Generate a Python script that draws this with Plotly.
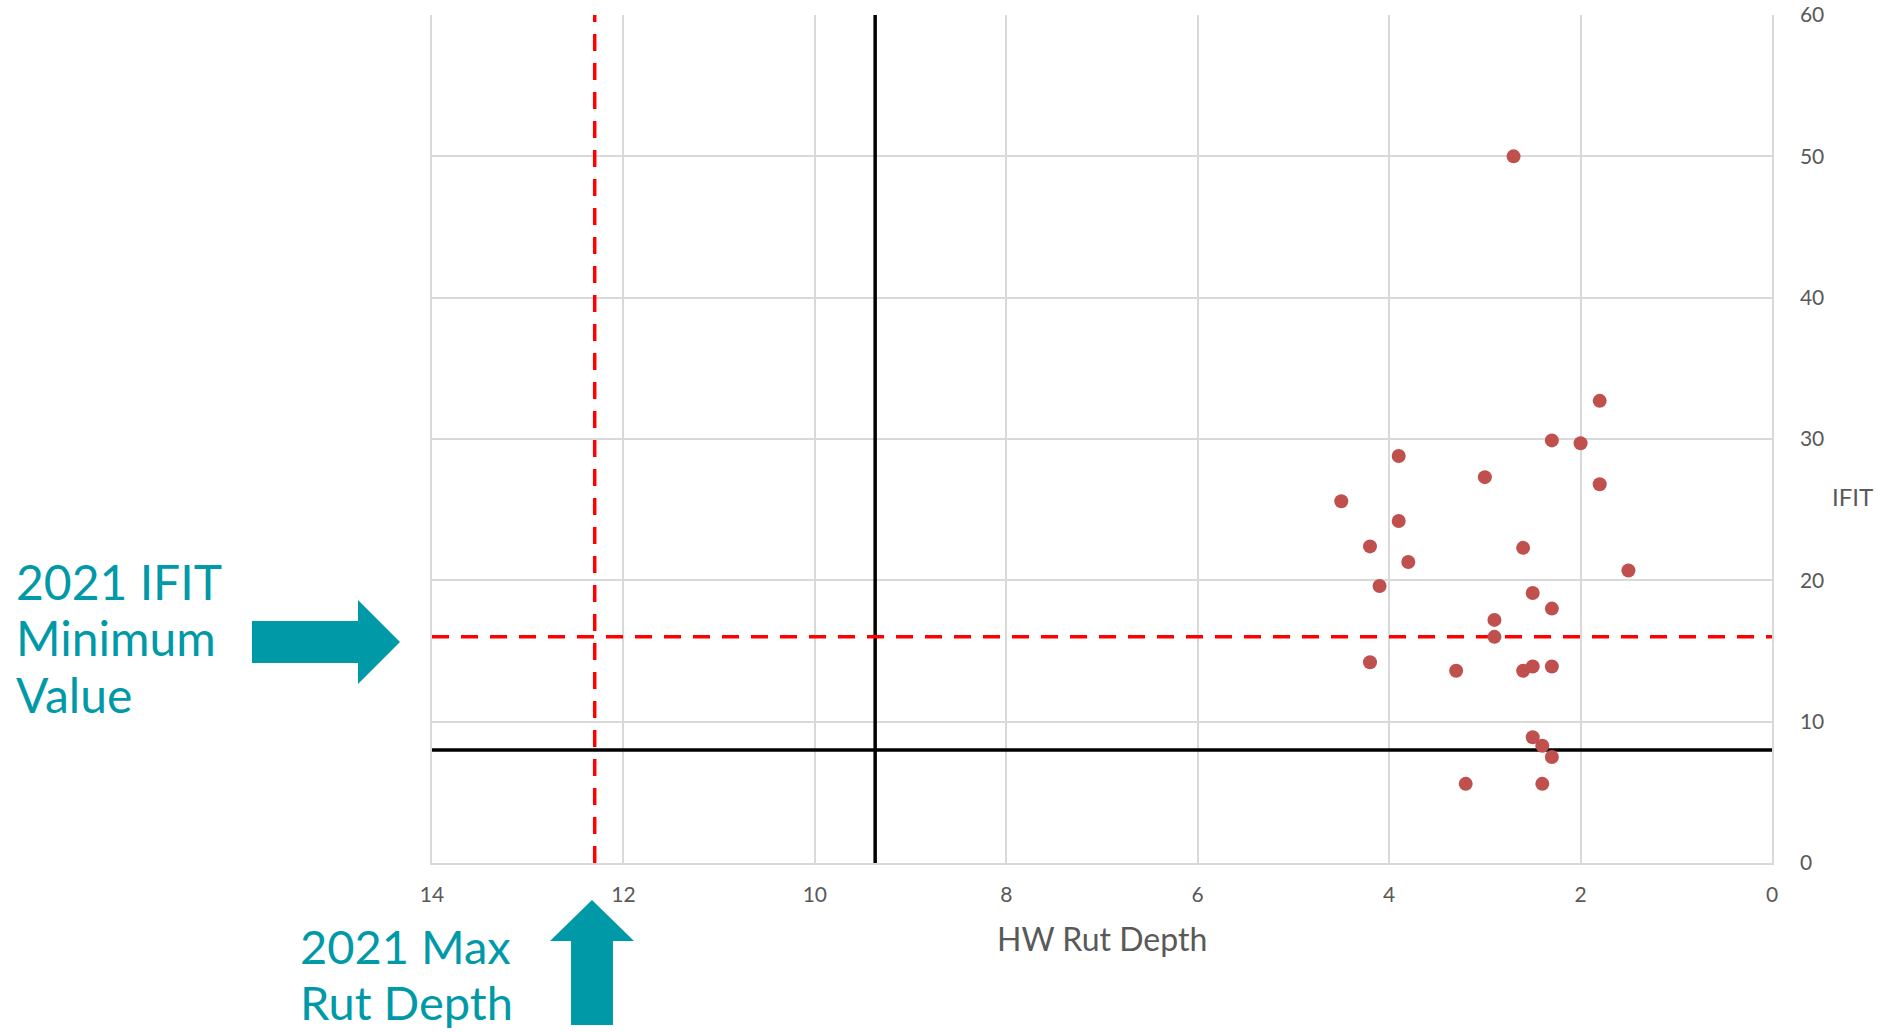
import plotly.graph_objects as go

# HW rut depth (mm) vs IFIT for each mix sample
rut_depth = [1.8, 2.3, 2.0, 3.9, 3.0, 1.8, 4.5, 3.9, 4.2, 2.6, 3.8, 1.5, 4.1, 2.5,
             2.3, 2.9, 2.9, 4.2, 3.3, 2.6, 2.5, 2.3, 2.5, 2.4, 2.3, 3.2, 2.4, 2.7]
ifit = [32.7, 29.9, 29.7, 28.8, 27.3, 26.8, 25.6, 24.2, 22.4, 22.3, 21.3, 20.7, 19.6, 19.1,
        18.0, 17.2, 16.0, 14.2, 13.6, 13.6, 13.9, 13.9, 8.9, 8.3, 7.5, 5.6, 5.6, 50.0]

# Reference limits
rut_limit_black = 9.37
ifit_limit_black = 8.0
rut_limit_2021 = 12.3
ifit_min_2021 = 16.0

x_range = [14, 0]
y_range = [0, 60]

x_ticks = [14, 12, 10, 8, 6, 4, 2, 0]
y_ticks = [0, 10, 20, 30, 40, 50, 60]

ifit_note = ["2021 IFIT", "Minimum", "Value"]
rut_note = ["2021 Max", "Rut Depth"]

W, H = 1883, 1032
L, R, T, B = 432, 1772, 15, 863  # plot area in pixels

TEAL = "#0099A8"
GREY_TXT = "#595959"
FONT = "Lato, 'Open Sans', sans-serif"


def px(x):
    return (x - L) / (R - L)


def py(y):
    return (B - y) / (B - T)


def path(points):
    return "M " + " L ".join(f"{px(a):.5f},{py(b):.5f}" for a, b in points) + " Z"


fig = go.Figure()

# Limit lines
fig.add_trace(go.Scatter(x=[rut_limit_black, rut_limit_black], y=y_range, mode="lines",
                         line=dict(color="black", width=3.5), hoverinfo="skip"))
fig.add_trace(go.Scatter(x=[x_range[0], x_range[1]], y=[ifit_limit_black, ifit_limit_black],
                         mode="lines", line=dict(color="black", width=3.5), hoverinfo="skip"))
fig.add_trace(go.Scatter(x=[rut_limit_2021, rut_limit_2021], y=y_range, mode="lines",
                         line=dict(color="#FF0000", width=3.5, dash="17px,12px"), hoverinfo="skip"))
fig.add_trace(go.Scatter(x=[x_range[0], x_range[1]], y=[ifit_min_2021, ifit_min_2021],
                         mode="lines", line=dict(color="#FF0000", width=3.5, dash="17px,12px"),
                         hoverinfo="skip", cliponaxis=False))

# Sample points
fig.add_trace(go.Scatter(x=rut_depth, y=ifit, mode="markers",
                         marker=dict(color="#C0504D", size=14, line=dict(width=0))))

# Arrows pointing at the 2021 limits
right_arrow = [(252, 621), (358, 621), (358, 600), (400, 642), (358, 684), (358, 663), (252, 663)]
up_arrow = [(571, 1025), (571, 941), (550, 941), (592, 900), (634, 941), (613, 941), (613, 1025)]
shapes = []
for poly in (right_arrow, up_arrow):
    shapes.append(dict(type="path", xref="paper", yref="paper", path=path(poly),
                       fillcolor=TEAL, line=dict(width=0), layer="above"))

annotations = []
for i, line in enumerate(ifit_note):
    annotations.append(dict(text=line, x=px(14), y=py(581 + 56.5 * i), xref="paper", yref="paper",
                            xanchor="left", yanchor="middle", showarrow=False,
                            font=dict(family=FONT, size=48, color=TEAL)))
for i, line in enumerate(rut_note):
    annotations.append(dict(text=line, x=px(298), y=py(946 + 56.5 * i), xref="paper", yref="paper",
                            xanchor="left", yanchor="middle", showarrow=False,
                            font=dict(family=FONT, size=47, color=TEAL)))
annotations += [
    dict(text="IFIT", x=px(1852), y=py(496), xref="paper", yref="paper",
         xanchor="center", yanchor="middle", showarrow=False,
         font=dict(family=FONT, size=24, color=GREY_TXT)),
    dict(text="HW Rut Depth", x=0.5, y=py(939), xref="paper", yref="paper",
         xanchor="center", yanchor="middle", showarrow=False,
         font=dict(family=FONT, size=32, color=GREY_TXT)),
]

fig.update_layout(
    width=W, height=H,
    margin=dict(l=L, r=W - R, t=T, b=H - B, pad=0, autoexpand=False),
    paper_bgcolor="white", plot_bgcolor="white",
    showlegend=False,
    shapes=shapes,
    annotations=annotations,
    xaxis=dict(range=x_range, tickvals=x_ticks, ticktext=[str(v) for v in x_ticks],
               showgrid=True, gridcolor="#D9D9D9", gridwidth=1.5, automargin=False,
               zeroline=False, showline=True, linecolor="#D9D9D9", linewidth=1.5,
               ticks="", ticklabelstandoff=12,
               tickfont=dict(family=FONT, size=21, color=GREY_TXT)),
    yaxis=dict(range=y_range, tickvals=y_ticks, ticktext=[str(v) for v in y_ticks],
               side="right", showgrid=True, gridcolor="#D9D9D9", gridwidth=1.5, automargin=False,
               zeroline=False, showline=True, linecolor="#D9D9D9", linewidth=1.5,
               mirror=True, ticks="", ticklabelstandoff=22,
               tickfont=dict(family=FONT, size=21, color=GREY_TXT)),
)

fig.write_html("out.html")
